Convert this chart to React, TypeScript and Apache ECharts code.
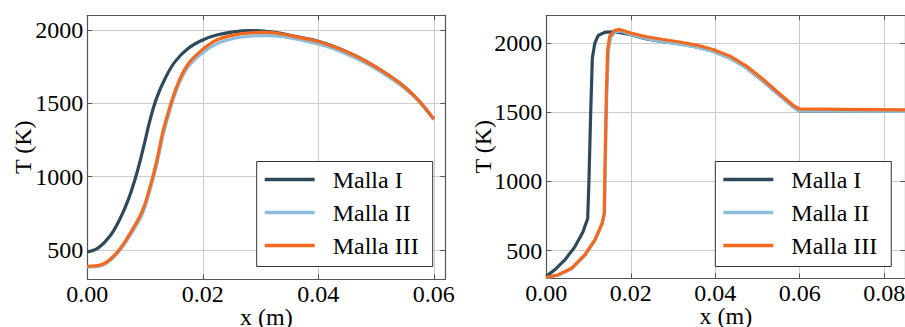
import React, { useEffect, useRef } from "react";
import * as echarts from "echarts";

// ---------- data ----------
const SERIES_NAMES = ["Malla I", "Malla II", "Malla III"];
const SERIES_COLORS = ["#2d4a5c", "#8dbedc", "#f4691f"];

const LEFT_X_TICKS = [0, 0.02, 0.04, 0.06];
const RIGHT_X_TICKS = [0, 0.02, 0.04, 0.06, 0.08];
const Y_TICKS = [500, 1000, 1500, 2000];

// Left panel (x in m, T in K)
const leftMallaI: number[][] = [
  [0, 487], [0.0019, 514], [0.0039, 593], [0.0056, 707], [0.0071, 843], [0.0085, 1013],
  [0.0097, 1194], [0.0108, 1376], [0.012, 1535], [0.0135, 1671], [0.0152, 1784],
  [0.0175, 1875], [0.02, 1932], [0.0224, 1966], [0.0253, 1987], [0.0282, 1995],
  [0.031, 1991], [0.0339, 1974], [0.0368, 1950], [0.04, 1923], [0.0426, 1889],
  [0.0454, 1843], [0.0483, 1786], [0.0512, 1717], [0.0541, 1638], [0.0564, 1559],
  [0.0581, 1487], [0.06, 1392],
];
const leftMallaII: number[][] = [
  [0, 384], [0.0025, 395], [0.0048, 460], [0.0071, 580], [0.0095, 745], [0.0108, 900],
  [0.012, 1078], [0.0131, 1280], [0.0144, 1465], [0.0158, 1625], [0.0175, 1750],
  [0.02, 1845], [0.0224, 1905], [0.0253, 1942], [0.0282, 1958], [0.031, 1962],
  [0.0339, 1954], [0.0368, 1933], [0.04, 1905], [0.0426, 1872], [0.0454, 1828],
  [0.0483, 1772], [0.0512, 1705], [0.0541, 1628], [0.0564, 1552], [0.0581, 1482],
  [0.06, 1388],
];
const leftMallaIII: number[][] = [
  [0, 389], [0.0025, 400], [0.0048, 468], [0.0071, 593], [0.0095, 763], [0.0108, 922],
  [0.012, 1104], [0.0131, 1308], [0.0144, 1489], [0.0158, 1645], [0.0175, 1770],
  [0.02, 1868], [0.0224, 1932], [0.0253, 1965], [0.0282, 1980], [0.031, 1983],
  [0.0339, 1971], [0.0368, 1948], [0.04, 1921], [0.0426, 1887], [0.0454, 1842],
  [0.0483, 1785], [0.0512, 1717], [0.0541, 1638], [0.0564, 1559], [0.0581, 1487],
  [0.06, 1392],
];

// Right panel (x in m, T in K)
const rightMallaI: number[][] = [
  [0, 314], [0.002, 361], [0.0044, 433], [0.0068, 529], [0.0087, 637], [0.0098, 732],
  [0.0101, 1007], [0.0105, 1486], [0.0109, 1892], [0.0115, 2000], [0.0123, 2055],
  [0.0139, 2078], [0.0166, 2080], [0.02, 2060], [0.0237, 2030], [0.0277, 2010],
  [0.0316, 1994], [0.0356, 1972], [0.0395, 1940], [0.0435, 1892], [0.0474, 1820],
  [0.0513, 1725], [0.0553, 1620], [0.0585, 1538], [0.0599, 1510], [0.07, 1508],
  [0.085, 1505],
];
const rightMallaII: number[][] = [
  [0, 305], [0.0028, 322], [0.006, 368], [0.0091, 462], [0.0115, 570], [0.0132, 690],
  [0.0138, 765], [0.014, 1127], [0.0143, 1605], [0.0147, 1940], [0.0152, 2040],
  [0.0164, 2082], [0.0176, 2088], [0.02, 2062], [0.0237, 2032], [0.0277, 2010],
  [0.0316, 1992], [0.0356, 1970], [0.0395, 1938], [0.0435, 1890], [0.0474, 1820],
  [0.0513, 1725], [0.0553, 1620], [0.0585, 1538], [0.0599, 1510], [0.07, 1508],
  [0.085, 1505],
];
const rightMallaIII: number[][] = [
  [0, 306], [0.0028, 326], [0.006, 373], [0.0091, 469], [0.0115, 577], [0.0132, 696],
  [0.0137, 768], [0.0139, 1127], [0.0142, 1605], [0.0145, 1940], [0.015, 2048],
  [0.0162, 2091], [0.0174, 2098], [0.02, 2072], [0.0237, 2045], [0.0277, 2025],
  [0.0316, 2007], [0.0356, 1985], [0.0395, 1953], [0.0435, 1905], [0.0474, 1833],
  [0.0513, 1738], [0.0553, 1631], [0.0585, 1548], [0.0599, 1524], [0.07, 1521],
  [0.085, 1517],
];

const LEFT_DATA = [leftMallaI, leftMallaII, leftMallaIII];
const RIGHT_DATA = [rightMallaI, rightMallaII, rightMallaIII];

// ---------- styling ----------
const FONT = "Liberation Serif";
const FRAME = "#555555";
const GRID_LINE = "#cccccc";

export default function App() {
  const ref = useRef<HTMLDivElement>(null);

  useEffect(() => {
    if (!ref.current) return;
    const chart = echarts.init(ref.current, undefined, { renderer: "svg" });

    const bottomX = (gridIndex: number, max: number, ticks: number[]) => ({
      type: "value",
      gridIndex,
      position: "bottom",
      min: 0,
      max,
      interval: 0.02,
      name: "x (m)",
      nameLocation: "middle",
      nameGap: 26,
      nameMoveOverlap: false,
      nameTextStyle: { fontFamily: FONT, fontSize: 24, color: "#000" },
      axisLine: { show: true, onZero: false, lineStyle: { color: FRAME, width: 1.2 } },
      axisTick: { show: true, inside: true, length: 5, customValues: ticks, lineStyle: { color: FRAME } },
      axisLabel: {
        show: true,
        customValues: ticks,
        margin: 3,
        fontFamily: FONT,
        fontSize: 24,
        color: "#000",
        formatter: (v: number) => v.toFixed(2),
      },
      splitLine: { show: true, lineStyle: { color: GRID_LINE, width: 1 } },
    });
    const topX = (gridIndex: number, max: number, ticks: number[]) => ({
      type: "value",
      gridIndex,
      position: "top",
      min: 0,
      max,
      interval: 0.02,
      axisLine: { show: true, onZero: false, lineStyle: { color: FRAME, width: 1.2 } },
      axisTick: { show: true, inside: true, length: 5, customValues: ticks, lineStyle: { color: FRAME } },
      axisLabel: { show: false },
      splitLine: { show: false },
    });
    const leftY = (gridIndex: number, min: number, max: number, gap: number) => ({
      type: "value",
      gridIndex,
      position: "left",
      min,
      max,
      splitNumber: 4,
      name: "T (K)",
      nameLocation: "middle",
      nameRotate: 90,
      nameGap: gap,
      nameMoveOverlap: false,
      nameTextStyle: { fontFamily: FONT, fontSize: 24, color: "#000" },
      axisLine: { show: true, onZero: false, lineStyle: { color: FRAME, width: 1.2 } },
      axisTick: { show: true, inside: true, length: 5, customValues: Y_TICKS, lineStyle: { color: FRAME } },
      axisLabel: {
        show: true,
        customValues: Y_TICKS,
        margin: 4,
        fontFamily: FONT,
        fontSize: 24,
        color: "#000",
        formatter: (v: number) => String(v),
      },
      splitLine: { show: true, lineStyle: { color: GRID_LINE, width: 1 } },
    });
    const rightY = (gridIndex: number, min: number, max: number) => ({
      type: "value",
      gridIndex,
      position: "right",
      min,
      max,
      splitNumber: 4,
      axisLine: { show: true, onZero: false, lineStyle: { color: FRAME, width: 1.2 } },
      axisTick: { show: true, inside: true, length: 5, customValues: Y_TICKS, lineStyle: { color: FRAME } },
      axisLabel: { show: false },
      splitLine: { show: false },
    });

    const mkSeries = (data: number[][][], axis: number, smooth: number | false) =>
      data.map((d, i) => ({
        type: "line",
        name: SERIES_NAMES[i],
        xAxisIndex: axis,
        yAxisIndex: axis,
        data: d,
        showSymbol: false,
        symbol: "none",
        smooth,
        color: SERIES_COLORS[i],
        lineStyle: { color: SERIES_COLORS[i], width: 3.2 },
        z: 2 + i,
      }));

    const legend = (left: number) => ({
      show: true,
      data: SERIES_NAMES,
      orient: "vertical",
      left,
      top: 161.5,
      icon: "rect",
      itemWidth: 50,
      itemHeight: 3.5,
      itemGap: 7,
      padding: [5, 14, 8, 8],
      borderColor: "#333",
      borderWidth: 1,
      borderRadius: 0,
      backgroundColor: "#fff",
      selectedMode: false,
      textStyle: {
        fontFamily: FONT,
        fontSize: 24,
        color: "#000",
        lineHeight: 26,
        padding: [0, 0, 0, 13],
      },
    });

    chart.setOption({
      animation: false,
      backgroundColor: "#fff",
      grid: [
        { left: 87.3, top: 15.3, width: 358, height: 264, containLabel: false, outerBoundsMode: "none" },
        { left: 546.3, top: 15.3, width: 359, height: 263, containLabel: false, outerBoundsMode: "none" },
      ],
      xAxis: [
        bottomX(0, 0.062, LEFT_X_TICKS),
        topX(0, 0.062, LEFT_X_TICKS),
        bottomX(1, 0.085, RIGHT_X_TICKS),
        topX(1, 0.085, RIGHT_X_TICKS),
      ],
      yAxis: [
        leftY(0, 300, 2100, 52),
        rightY(0, 300, 2100),
        leftY(1, 300, 2200, 51),
        rightY(1, 300, 2200),
      ],
      legend: [legend(256.7), legend(715.3)],
      series: [...mkSeries(LEFT_DATA, 0, 0.4), ...mkSeries(RIGHT_DATA, 2, false)],
    });

    return () => chart.dispose();
  }, []);

  return (
    <div
      ref={ref}
      style={{ position: "absolute", left: 0, top: 0, width: 905, height: 327 }}
    />
  );
}
